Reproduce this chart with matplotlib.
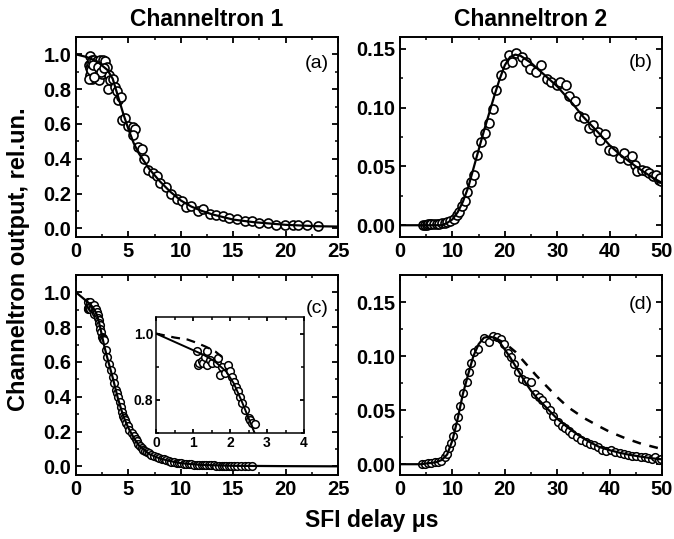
import numpy as np
import matplotlib
matplotlib.use('Agg')
import matplotlib.pyplot as plt
from matplotlib import rcParams
from matplotlib.ticker import MultipleLocator

config = {
    "font.family": ['Liberation Sans', 'DejaVu Sans'],
    "font.size": 14,
    "font.weight": 'bold',
    "axes.linewidth": 1.4,
    "xtick.direction": 'in',
    "ytick.direction": 'in',
    "xtick.top": True,
    "ytick.right": True,
}
rcParams.update(config)

# (a) Channeltron 1, data + fit
a_x = [1.2, 1.3, 1.3, 1.35, 1.4, 1.5, 1.5, 1.6, 1.7, 1.8, 1.9, 2.0, 2.1, 2.2, 2.3, 2.4, 2.5, 2.6, 2.7, 2.8,
       2.9, 3.0, 3.1, 3.24, 3.08, 3.56, 3.7, 3.87, 4.03, 4.25, 4.35, 4.67, 4.98, 5.46, 5.62, 5.4, 5.94, 6.25,
       6.48, 6.9, 7.3, 7.7, 8.0, 8.6, 9.1, 9.6, 10.1, 10.5, 11.0, 11.6, 12.1, 12.8, 13.4, 14.0, 14.6, 15.4,
       16.1, 16.8, 17.5, 18.3, 19.1, 19.9, 20.7, 21.2, 22.0, 23.1,
       1.25, 1.45, 1.65, 2.05, 2.35, 2.65, 1.75]
a_y = [0.94, 0.99, 0.92, 0.88, 0.95, 0.86, 0.97, 0.90, 0.97, 0.93, 0.88, 0.96, 0.91, 0.85, 0.97, 0.93, 0.89,
       0.97, 0.94, 0.96, 0.90, 0.93, 0.88, 0.85, 0.80, 0.86, 0.81, 0.79, 0.74, 0.755, 0.62, 0.635, 0.59,
       0.585, 0.57, 0.535, 0.47, 0.455, 0.40, 0.335, 0.32, 0.30, 0.26, 0.235, 0.20, 0.17, 0.155, 0.125, 0.13,
       0.10, 0.11, 0.08, 0.075, 0.07, 0.06, 0.055, 0.04, 0.04, 0.03, 0.03, 0.02, 0.02, 0.02, 0.02, 0.02, 0.015,
       0.86, 0.91, 0.94, 0.93, 0.90, 0.92, 0.87]
a_fit_x = [0, 1, 2, 3, 3.5, 4, 4.5, 5, 5.5, 6, 7, 8, 9, 10, 11, 12, 13, 14, 15, 17, 20, 23, 25]
a_fit_y = [1.0, 0.985, 0.96, 0.91, 0.86, 0.76, 0.66, 0.57, 0.49, 0.43, 0.34, 0.27, 0.21, 0.16, 0.125,
           0.10, 0.08, 0.065, 0.05, 0.035, 0.02, 0.012, 0.01]

# (b) Channeltron 2, data + fit
b_x = [4.4, 4.8, 5.1, 5.4, 5.7, 6.0, 6.5, 7.0, 7.5, 8.0, 8.5, 9.0, 9.5, 10.3, 10.8, 11.3, 11.75, 12.4, 12.8,
       13.5, 14.1, 14.6, 15.4, 16.2, 17.0, 17.7, 18.4, 19.3, 20.0, 20.8, 21.3, 22.2, 23.2, 24.1, 24.9, 26.0,
       27.0, 28.0, 28.9, 29.9, 30.6, 31.6, 32.3, 33.4, 34.2, 35.1, 36.1, 36.8, 37.8, 38.1, 39.1, 39.9, 40.7,
       41.9, 42.7, 43.5, 44.2, 44.8, 45.2, 46.1, 46.9, 47.6, 48.3, 48.9, 49.4, 49.9, 49.7]
b_y = [0.0, 0.0005, 0.0005, 0.001, 0.001, 0.001, 0.001, 0.0012, 0.0012, 0.0015, 0.002, 0.0025, 0.0037, 0.005,
       0.009, 0.011, 0.016, 0.0205, 0.028, 0.0366, 0.043, 0.06, 0.0706, 0.078, 0.0867, 0.0985, 0.115, 0.128,
       0.137, 0.145, 0.139, 0.146, 0.143, 0.139, 0.133, 0.130, 0.1365, 0.124, 0.122, 0.119, 0.1215, 0.119,
       0.1095, 0.106, 0.093, 0.091, 0.0825, 0.085, 0.0795, 0.0726, 0.0774, 0.0636, 0.0628, 0.057, 0.0614,
       0.0557, 0.0585, 0.0515, 0.0459, 0.0473, 0.0459, 0.0445, 0.0417, 0.043, 0.0388, 0.0374, 0.040]
b_fit_x = [0, 8, 9, 10, 11, 12, 13, 14, 15, 16, 17, 18, 19, 20, 21, 22, 23, 25, 27, 30, 33, 35, 38, 40,
           42, 45, 48, 50]
b_fit_y = [0.0, 0.0, 0.002, 0.005, 0.011, 0.02, 0.032, 0.048, 0.064, 0.08, 0.095, 0.11, 0.124, 0.136,
           0.143, 0.145, 0.144, 0.138, 0.13, 0.118, 0.103, 0.092, 0.078, 0.068, 0.06, 0.05, 0.041, 0.036]

# (c) Channeltron 1, second run (also used for the inset)
c_x = [1.1, 1.14, 1.17, 1.23, 1.28, 1.32, 1.37, 1.37, 1.46, 1.5, 1.64, 1.68, 1.73, 1.78, 1.86, 1.95, 2.0,
       2.05, 2.1, 2.16, 2.22, 2.27, 2.32, 2.4, 2.5, 2.54, 2.59, 2.67, 2.86, 2.98, 3.14, 3.3, 3.49, 3.62,
       3.8, 3.9, 4.03, 4.15, 4.25, 4.35, 4.44, 4.55, 4.67, 4.8, 4.98, 5.1, 5.3, 5.5, 5.7, 5.84, 5.95, 6.1,
       6.25, 6.4, 6.55, 6.73, 6.95, 7.2, 7.45, 7.7, 7.9, 8.16, 8.4, 8.6, 8.85, 9.1, 9.35, 9.6, 9.8, 10.06,
       10.3, 10.5, 10.75, 11.0, 11.25, 11.5, 11.75, 12.0, 12.2, 12.4, 12.65, 12.9, 13.15, 13.4, 13.65,
       13.9, 14.1, 14.3, 14.55, 14.8, 15.1, 15.4, 15.75, 16.1, 16.45, 16.8]
c_y = [0.946, 0.905, 0.91, 0.916, 0.91, 0.93, 0.905, 0.946, 0.92, 0.91, 0.91, 0.925, 0.876, 0.90, 0.88,
       0.906, 0.886, 0.87, 0.855, 0.84, 0.826, 0.81, 0.79, 0.77, 0.745, 0.74, 0.73, 0.727, 0.67, 0.63,
       0.59, 0.555, 0.516, 0.478, 0.44, 0.42, 0.40, 0.37, 0.34, 0.31, 0.287, 0.28, 0.268, 0.25, 0.23, 0.21,
       0.19, 0.172, 0.155, 0.143, 0.13, 0.115, 0.105, 0.096, 0.09, 0.082, 0.075, 0.067, 0.06, 0.054, 0.05,
       0.044, 0.04, 0.034, 0.03, 0.027, 0.024, 0.021, 0.019, 0.017, 0.015, 0.013, 0.012, 0.011, 0.01,
       0.0096, 0.008, 0.0076, 0.007, 0.006, 0.006, 0.006, 0.005, 0.004, 0.004, 0.004, 0.004, 0.004, 0.003,
       0.002, 0.002, 0.002, 0.002, 0.002, 0.002, 0.002]
c_fit_x = [0, 0.5, 1.0, 1.3, 1.6, 1.9, 2.1, 2.3, 2.5, 2.7, 3.0, 3.5, 4.0, 4.5, 5.0, 5.5, 6.0, 7.0, 8.0,
           9.0, 10, 12, 15, 20, 25]
c_fit_y = [1.0, 0.975, 0.95, 0.935, 0.915, 0.885, 0.85, 0.80, 0.745, 0.69, 0.62, 0.51, 0.39, 0.29, 0.22,
           0.165, 0.12, 0.07, 0.045, 0.03, 0.018, 0.008, 0.003, 0.001, 0.0]
c_dash_x = [0, 0.5, 0.85, 1.1, 1.35, 1.6, 1.8]
c_dash_y = [1.0, 0.988, 0.982, 0.972, 0.96, 0.946, 0.928]

# (d) Channeltron 2, second run
d_x = [4.1, 4.7, 5.4, 6.0, 6.6, 7.3, 7.9, 8.5, 9.0, 9.4, 9.8, 10.1, 10.6, 11.1, 11.5, 12.0, 12.7, 13.2,
       13.6, 14.2, 14.9, 16.1, 17.0, 17.7, 18.5, 19.3, 19.9, 20.6, 21.2, 21.8, 22.5, 23.3, 24.1, 25.0,
       25.8, 26.5, 27.1, 27.8, 28.6, 29.2, 30.1, 30.9, 31.5, 32.3, 32.9, 33.7, 34.5, 35.4, 36.3, 37.0,
       37.8, 38.6, 39.4, 40.2, 41.1, 41.9, 42.7, 43.5, 44.3, 45.1, 45.9, 46.7, 47.3, 48.1, 48.7, 49.4, 49.9]
d_y = [0.0, 0.0006, 0.001, 0.0012, 0.0018, 0.0025, 0.0034, 0.0065, 0.0095, 0.0148, 0.020, 0.026, 0.034,
       0.044, 0.054, 0.066, 0.076, 0.085, 0.094, 0.104, 0.107, 0.117, 0.113, 0.119, 0.118, 0.1156, 0.111,
       0.103, 0.099, 0.0925, 0.085, 0.079, 0.077, 0.0756, 0.065, 0.062, 0.0596, 0.0547, 0.0504, 0.0443,
       0.0394, 0.0357, 0.0335, 0.031, 0.028, 0.025, 0.0228, 0.0203, 0.0188, 0.0178, 0.0163, 0.0135, 0.0126,
       0.0132, 0.011, 0.0101, 0.0095, 0.0086, 0.008, 0.0074, 0.0065, 0.0071, 0.0061, 0.0049, 0.0065,
       0.0043, 0.0049]
d_fit_x = [0, 4, 5, 6, 7, 8, 9, 10, 11, 12, 13, 14, 15, 16, 17, 18, 19, 20, 21, 22, 23, 24, 25, 26, 27,
           28, 30, 32, 34, 36, 38, 40, 42, 44, 46, 48, 50]
d_fit_y = [0.0, 0.0, 0.0007, 0.0012, 0.002, 0.004, 0.009, 0.022, 0.042, 0.065, 0.083, 0.1, 0.111, 0.117,
           0.118, 0.117, 0.113, 0.106, 0.099, 0.091, 0.083, 0.075, 0.068, 0.062, 0.057, 0.052, 0.042, 0.034,
           0.027, 0.021, 0.016, 0.013, 0.0105, 0.0085, 0.007, 0.0055, 0.0045]
d_dash_x = [18, 20, 22, 24, 26, 28, 30, 32, 35, 38, 40, 43, 46, 50]
d_dash_y = [0.117, 0.112, 0.104, 0.093, 0.082, 0.072, 0.062, 0.053, 0.043, 0.035, 0.03, 0.024, 0.019, 0.014]


def style_axis(ax, xmaj, xmin, ymaj, ymin, size=14.5):
    ax.xaxis.set_major_locator(MultipleLocator(xmaj))
    ax.xaxis.set_minor_locator(MultipleLocator(xmin))
    ax.yaxis.set_major_locator(MultipleLocator(ymaj))
    ax.yaxis.set_minor_locator(MultipleLocator(ymin))
    ax.tick_params(which='major', length=4, width=1.3, labelsize=size)
    ax.tick_params(which='minor', length=2.5, width=1.1)
    ax.tick_params(which='both', top=True, right=True, direction='in')


fig = plt.figure(figsize=(6.74, 5.39), dpi=100)
ax_a = fig.add_axes([0.1128, 0.5603, 0.3887, 0.3711])
ax_b = fig.add_axes([0.5935, 0.5603, 0.3887, 0.3711])
ax_c = fig.add_axes([0.1128, 0.1187, 0.3887, 0.3711])
ax_d = fig.add_axes([0.5935, 0.1187, 0.3887, 0.3711])
ax_in = fig.add_axes([0.2315, 0.1967, 0.2196, 0.2152])

mk = dict(marker='o', mfc='white', mec='black', linestyle='none')

# (a)
ax_a.plot(a_fit_x, a_fit_y, c='black', lw=1.6, zorder=3)
ax_a.plot(a_x, a_y, ms=6.5, mew=1.2, zorder=2, **mk)
ax_a.set_xlim(0, 25)
ax_a.set_ylim(-0.05, 1.1)
ax_a.yaxis.set_major_formatter('{x:.1f}')
style_axis(ax_a, 5, 2.5, 0.2, 0.1)
ax_a.text(0.965, 0.865, '(a)', transform=ax_a.transAxes, ha='right', va='center',
          fontsize=14, fontweight='normal')
ax_a.set_title('Channeltron 1', fontsize=16.5, fontweight='bold', pad=8)

# (b)
ax_b.plot(b_fit_x, b_fit_y, c='black', lw=1.6, zorder=3)
ax_b.plot(b_x, b_y, ms=6.5, mew=1.2, zorder=2, **mk)
ax_b.set_xlim(0, 50)
ax_b.set_ylim(-0.01, 0.16)
ax_b.yaxis.set_major_formatter('{x:.2f}')
style_axis(ax_b, 10, 5, 0.05, 0.025)
ax_b.text(0.965, 0.87, '(b)', transform=ax_b.transAxes, ha='right', va='center',
          fontsize=14, fontweight='normal')
ax_b.set_title('Channeltron 2', fontsize=16.5, fontweight='bold', pad=8)

# (c)
ax_c.plot(c_fit_x, c_fit_y, c='black', lw=1.6, zorder=3)
ax_c.plot(c_x, c_y, ms=5.5, mew=1.1, zorder=2, **mk)
ax_c.set_xlim(0, 25)
ax_c.set_ylim(-0.05, 1.1)
ax_c.yaxis.set_major_formatter('{x:.1f}')
style_axis(ax_c, 5, 2.5, 0.2, 0.1)
ax_c.text(0.965, 0.835, '(c)', transform=ax_c.transAxes, ha='right', va='center',
          fontsize=14, fontweight='normal')

# inset of (c)
ax_in.plot(c_fit_x, c_fit_y, c='black', lw=1.4, zorder=3)
ax_in.plot(c_dash_x, c_dash_y, c='black', lw=1.6, linestyle=(0, (4, 3)), zorder=3)
ax_in.plot(c_x, c_y, ms=5.5, mew=1.1, zorder=2, **mk)
ax_in.set_xlim(0, 4)
ax_in.set_ylim(0.7, 1.05)
ax_in.yaxis.set_major_formatter('{x:.1f}')
style_axis(ax_in, 1, 0.5, 0.2, 0.1, size=10)
ax_in.tick_params(which='major', length=3, pad=2)
ax_in.tick_params(which='minor', length=2)
for s in ax_in.spines.values():
    s.set_linewidth(1.1)

# (d)
ax_d.plot(d_fit_x, d_fit_y, c='black', lw=1.6, zorder=3)
ax_d.plot(d_dash_x, d_dash_y, c='black', lw=1.8, linestyle=(0, (3.5, 3.5)), zorder=3)
ax_d.plot(d_x, d_y, ms=5.5, mew=1.1, zorder=2, **mk)
ax_d.set_xlim(0, 50)
ax_d.set_ylim(-0.01, 0.175)
ax_d.yaxis.set_major_formatter('{x:.2f}')
style_axis(ax_d, 10, 5, 0.05, 0.025)
ax_d.text(0.965, 0.855, '(d)', transform=ax_d.transAxes, ha='right', va='center',
          fontsize=14, fontweight='normal')

# shared labels
fig.text(0.027, 0.52, 'Channeltron output, rel.un.', rotation=90, ha='center', va='center',
         fontsize=17, fontweight='bold')
fig.text(0.552, 0.035, 'SFI delay μs', ha='center', va='center', fontsize=16.5, fontweight='bold')

plt.savefig('out.png', dpi=100)
